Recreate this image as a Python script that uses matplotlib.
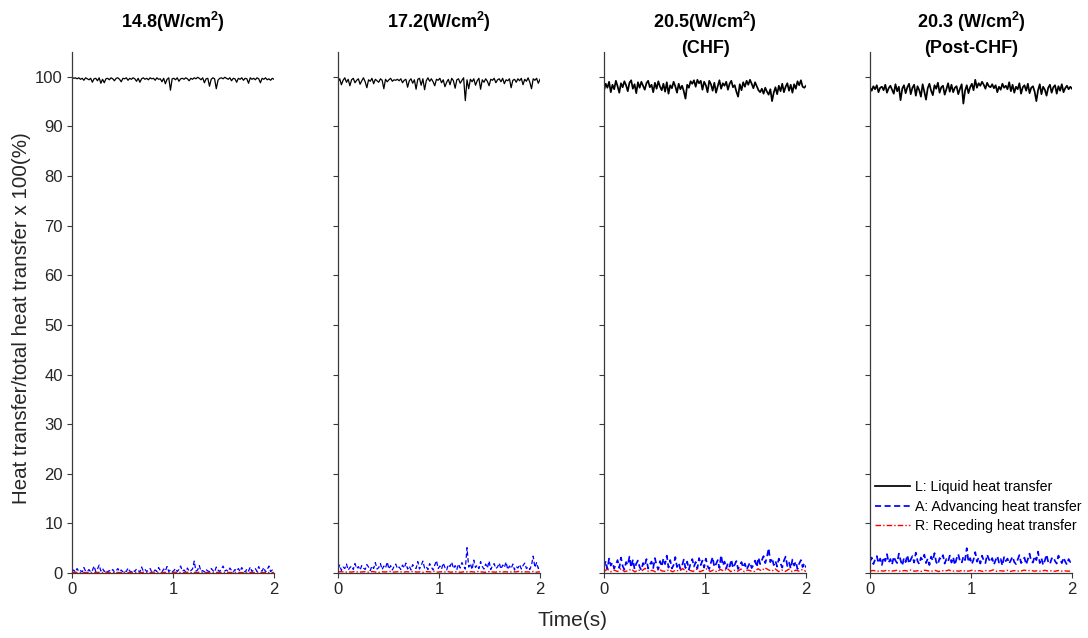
import numpy as np
import matplotlib
matplotlib.use("Agg")
import matplotlib.pyplot as plt
from matplotlib import font_manager

names = {f.name for f in font_manager.fontManager.ttflist}
title_font = "Liberation Sans Narrow" if "Liberation Sans Narrow" in names else "Liberation Sans"
plt.rcParams["font.family"] = ["Liberation Sans", "DejaVu Sans"]
plt.rcParams["mathtext.fontset"] = "custom"
plt.rcParams["mathtext.rm"] = title_font
plt.rcParams["mathtext.bf"] = title_font + ":bold"

titles = [[r"14.8(W/cm$^\mathbf{2}$)"],
          [r"17.2(W/cm$^\mathbf{2}$)"],
          [r"20.5(W/cm$^\mathbf{2}$)", "(CHF)"],
          [r"20.3 (W/cm$^\mathbf{2}$)", "(Post-CHF)"]]

legend_labels = ["L: Liquid heat transfer",
                 "A: Advancing heat transfer",
                 "R: Receding heat transfer"]

# Liquid heat-transfer share (%) for each heat flux
liquid_1 = [99.9, 99.7, 99.8, 99.6, 99.8, 99.5, 99.7, 99.3, 99.8, 99.6, 99.4, 99.7,
            98.9, 99.6, 99.7, 99.2, 99.8, 98.7, 99.5, 98.8, 99.6, 99.7, 99.4, 99.8,
            99.6, 99.2, 99.7, 99.8, 99.5, 99.0, 99.7, 99.6, 99.8, 99.3, 99.7, 99.5,
            99.8, 99.6, 99.1, 99.7, 98.9, 99.6, 99.8, 99.5, 99.7, 99.4, 99.8, 99.6,
            99.7, 99.3, 99.8, 99.5, 99.6, 99.0, 99.7, 98.6, 99.5, 99.8, 97.3, 99.6,
            99.7, 99.4, 99.8, 99.1, 99.6, 99.7, 99.5, 99.8, 99.6, 99.2, 99.7, 99.5,
            99.8, 99.6, 99.9, 99.7, 99.4, 99.8, 98.8, 99.6, 99.7, 98.1, 99.5, 99.8,
            99.6, 97.6, 99.3, 99.7, 99.8, 99.6, 99.9, 99.7, 99.5, 99.8, 99.2, 99.7,
            99.6, 98.9, 99.7, 99.5, 99.8, 99.3, 99.7, 99.6, 98.7, 99.8, 99.5, 99.7,
            99.4, 99.8, 99.6, 98.8, 99.7, 99.5, 99.8, 99.4, 99.6, 99.3, 99.7, 99.5]

liquid_2 = [99.0, 99.6, 98.4, 99.3, 99.8, 98.9, 99.5, 98.2, 99.4, 99.7, 98.8, 99.3,
            99.6, 98.5, 99.2, 99.8, 99.0, 97.8, 99.4, 99.1, 99.7, 98.6, 99.5, 99.2,
            98.9, 99.6, 99.3, 97.6, 99.5, 99.0, 99.4, 99.7, 99.1, 99.4, 99.3, 99.5,
            99.2, 99.6, 98.8, 99.3, 99.5, 97.9, 99.2, 99.6, 98.7, 99.4, 97.5, 99.5,
            99.7, 98.3, 99.6, 97.4, 99.2, 99.8, 99.1, 99.6, 99.0, 98.2, 99.5, 99.3,
            99.7, 98.8, 99.4, 98.0, 98.9, 99.5, 98.4, 99.7, 99.2, 97.7, 99.4, 99.6,
            98.7, 99.3, 99.8, 95.2, 99.4, 97.6, 99.5, 99.0, 99.6, 98.3, 99.2, 99.7,
            97.5, 99.4, 98.9, 99.6, 99.1, 98.2, 99.5, 99.3, 99.7, 98.8, 99.4, 99.6,
            99.0, 99.7, 98.6, 99.4, 99.2, 99.6, 97.8, 99.3, 99.5, 98.9, 99.6, 99.2,
            99.7, 98.4, 99.5, 99.1, 99.8, 98.9, 97.6, 99.6, 99.3, 99.7, 98.7, 99.5]

liquid_3 = [97.2, 98.6, 97.8, 99.0, 96.9, 98.4, 97.5, 99.2, 98.1, 96.8, 98.7, 97.9,
            99.1, 98.3, 97.1, 98.8, 99.3, 97.6, 98.5, 96.7, 98.9, 97.8, 99.0, 98.2,
            97.4, 98.7, 99.2, 97.9, 98.4, 96.9, 98.8, 97.6, 99.1, 98.0, 97.3, 98.6,
            97.0, 98.9, 96.6, 98.3, 97.7, 99.0, 98.1, 96.8, 98.6, 97.5, 98.2, 97.1,
            95.6, 98.4, 97.8, 99.1, 98.6, 99.3, 98.0, 99.4, 98.7, 99.2, 97.4, 99.0,
            98.3, 96.9, 99.2, 98.5, 97.2, 98.8, 96.8, 98.1, 99.3, 97.6, 98.7, 98.2,
            99.0, 97.4, 98.6, 99.2, 97.9, 98.3, 97.0, 96.0, 98.5, 97.3, 98.9, 98.0,
            99.2, 98.4, 99.4, 98.6, 97.7, 98.9, 98.1, 97.3, 96.9, 97.6, 96.6, 97.8,
            97.0, 96.4, 97.5, 95.1, 96.8, 97.9, 96.5, 98.2, 97.1, 98.6, 96.9, 98.0,
            98.7, 97.2, 98.4, 96.8, 98.5, 97.6, 99.1, 98.3, 99.3, 98.0, 97.8, 98.2]

liquid_4 = [97.9, 97.2, 98.1, 97.5, 98.3, 96.9, 97.8, 98.0, 97.3, 98.4, 96.8, 97.7,
            98.2, 97.4, 96.6, 98.5, 97.1, 98.0, 95.3, 97.6, 98.3, 96.7, 97.9, 98.6,
            96.5, 97.8, 98.4, 96.2, 98.1, 97.3, 96.0, 98.5, 97.0, 95.4, 97.7, 98.6,
            97.2, 96.3, 98.3, 97.6, 98.8, 96.8, 97.9, 98.2, 96.4, 97.5, 98.7, 97.0,
            98.4, 96.9, 97.8, 98.1, 96.5, 97.6, 98.5, 94.6, 97.2, 98.3, 96.7, 97.9,
            98.6, 97.3, 99.4, 97.8, 98.7, 98.2, 99.0, 98.4, 97.6, 98.8, 98.1, 97.9,
            98.5, 97.7, 98.3, 96.9, 98.0, 97.4, 98.6, 97.8, 98.2, 97.5, 98.9, 97.1,
            98.4, 96.8, 98.0, 97.5, 98.7, 96.6, 97.9, 98.3, 97.2, 98.6, 96.7, 97.8,
            98.1, 97.0, 95.1, 97.3, 98.5, 96.5, 98.0, 97.4, 96.2, 97.8, 98.4, 96.8,
            97.9, 98.3, 96.6, 98.1, 97.2, 98.5, 96.9, 97.7, 98.2, 97.5, 98.0, 97.6]

# Advancing-contact-line heat-transfer share (%)
advancing_1 = [0.3, 0.6, 0.2, 0.9, 0.3, 0.5, 0.2, 1.1, 0.4, 0.3, 0.7, 0.2,
               0.5, 1.4, 0.3, 0.8, 1.6, 0.4, 0.9, 0.3, 0.6, 0.2, 0.5, 0.3,
               0.7, 0.2, 0.4, 0.9, 0.3, 0.6, 0.2, 0.5, 0.3, 1.0, 0.4, 0.2,
               0.6, 0.3, 0.8, 0.5, 0.2, 1.2, 0.4, 0.7, 0.3, 0.5, 0.9, 0.2,
               0.4, 0.6, 0.3, 1.1, 0.5, 0.2, 0.8, 0.4, 1.3, 0.3, 0.6, 0.2,
               0.5, 0.9, 0.3, 0.7, 1.4, 0.4, 0.6, 0.2, 1.0, 0.3, 0.5, 0.8,
               2.4, 0.4, 0.6, 1.5, 0.3, 0.5, 0.2, 0.7, 0.4, 0.3, 0.9, 0.5,
               0.2, 1.2, 0.6, 0.3, 0.8, 1.4, 0.4, 0.6, 0.3, 1.0, 0.5, 0.2,
               0.7, 0.4, 0.9, 0.3, 1.1, 0.5, 0.2, 0.8, 0.4, 1.2, 0.3, 0.6,
               0.9, 0.3, 1.3, 0.5, 0.4, 1.1, 0.2, 0.7, 1.4, 0.3, 0.6, 0.4]

advancing_2 = [0.8, 1.6, 0.5, 1.2, 0.9, 1.8, 0.6, 1.1, 1.4, 0.7, 1.9, 0.9,
               1.3, 0.6, 1.5, 1.0, 0.7, 1.7, 1.2, 0.5, 1.4, 0.9, 2.1, 0.8,
               1.1, 1.9, 0.7, 1.4, 1.0, 2.2, 0.8, 1.5, 0.6, 1.3, 1.8, 0.9,
               1.2, 0.7, 1.6, 1.0, 2.0, 0.8, 1.4, 0.6, 1.7, 1.1, 0.9, 2.3,
               0.8, 1.5, 2.4, 1.0, 1.3, 0.7, 1.9, 1.2, 0.6, 1.6, 2.5, 0.9,
               1.4, 0.8, 2.0, 1.1, 0.6, 1.7, 1.3, 2.2, 0.9, 1.5, 0.7, 1.8,
               1.0, 2.1, 1.4, 0.8, 5.1, 1.2, 1.9, 0.7, 2.6, 1.1, 1.6, 0.9,
               2.3, 1.3, 0.8, 1.8, 1.0, 2.4, 0.7, 1.5, 1.9, 0.9, 1.2, 2.0,
               0.8, 1.6, 1.1, 2.2, 0.7, 1.4, 0.9, 1.8, 0.6, 1.3, 1.0, 1.7,
               0.8, 1.5, 2.0, 0.9, 1.2, 0.7, 1.6, 3.4, 1.1, 2.1, 0.9, 1.4]

advancing_3 = [1.2, 2.4, 0.8, 2.9, 1.5, 2.1, 0.9, 1.8, 2.6, 1.0, 3.1, 1.4,
               0.7, 2.2, 1.6, 3.3, 1.1, 2.7, 0.8, 1.9, 2.5, 1.2, 0.6, 2.0,
               1.4, 2.8, 0.9, 1.7, 2.3, 1.0, 3.0, 1.5, 0.7, 2.4, 1.3, 2.9,
               1.8, 3.5, 1.1, 2.6, 0.9, 1.6, 3.2, 1.2, 2.0, 0.8, 1.5, 2.7,
               1.0, 2.3, 0.7, 1.9, 2.8, 1.3, 2.2, 0.9, 3.0, 1.6, 2.5, 1.1,
               2.9, 1.4, 0.8, 2.1, 3.2, 1.2, 1.8, 2.6, 1.0, 3.6, 1.5, 2.3,
               0.9, 2.0, 1.3, 2.7, 1.0, 1.7, 2.4, 0.8, 1.5, 2.2, 1.1, 1.9,
               0.7, 1.4, 2.1, 1.0, 1.6, 2.5, 1.2, 3.1, 1.8, 2.6, 3.4, 2.0,
               3.2, 5.0, 2.2, 3.0, 1.6, 2.4, 1.3, 2.9, 1.9, 1.1, 2.5, 3.3,
               1.4, 2.1, 0.9, 2.7, 1.5, 2.3, 0.8, 1.9, 2.6, 1.2, 2.0, 1.1]

advancing_4 = [2.3, 3.1, 1.8, 2.7, 3.4, 2.0, 2.9, 1.6, 3.2, 2.4, 3.8, 2.1,
               2.8, 1.7, 3.3, 2.5, 2.0, 3.9, 2.6, 1.5, 3.0, 2.2, 3.6, 1.9,
               2.7, 3.4, 2.1, 4.1, 2.4, 1.8, 3.1, 2.6, 3.7, 2.0, 2.9, 1.6,
               3.3, 2.5, 4.0, 2.2, 1.7, 3.0, 2.7, 3.6, 1.9, 2.8, 2.3, 3.5,
               2.1, 3.2, 1.6, 2.9, 3.8, 2.4, 2.0, 3.3, 2.6, 5.0, 2.2, 3.0,
               1.8, 2.7, 4.2, 2.3, 3.1, 1.9, 3.5, 2.5, 2.0, 3.7, 2.8, 2.2,
               3.0, 1.7, 2.6, 3.4, 2.1, 2.8, 1.5, 3.2, 2.4, 2.9, 1.9, 2.6,
               3.3, 2.2, 1.8, 2.7, 3.6, 2.0, 2.5, 3.1, 1.7, 2.8, 3.9, 2.3,
               2.1, 3.4, 2.6, 4.3, 2.0, 3.0, 1.6, 2.5, 3.7, 2.2, 1.8, 2.9,
               3.2, 2.4, 1.9, 3.5, 2.7, 2.0, 3.1, 2.3, 1.7, 2.8, 2.2, 2.5]

# Receding-contact-line heat-transfer share (%)
receding_1 = [0.10, 0.14, 0.08, 0.12, 0.09, 0.16, 0.07, 0.11, 0.13, 0.08,
              0.15, 0.10, 0.06, 0.12, 0.09, 0.17, 0.11, 0.08, 0.13, 0.10,
              0.07, 0.14, 0.12, 0.09, 0.18, 0.10, 0.08, 0.13, 0.11, 0.07,
              0.15, 0.09, 0.12, 0.10, 0.16, 0.08, 0.11, 0.14, 0.09, 0.12,
              0.07, 0.13, 0.10, 0.15, 0.08, 0.12, 0.11, 0.09, 0.14, 0.10,
              0.08, 0.16, 0.12, 0.09, 0.11, 0.13, 0.07, 0.12, 0.10, 0.09]

receding_2 = [0.20, 0.28, 0.15, 0.24, 0.18, 0.32, 0.14, 0.22, 0.27, 0.16,
              0.30, 0.19, 0.13, 0.25, 0.21, 0.34, 0.17, 0.23, 0.29, 0.15,
              0.26, 0.20, 0.33, 0.18, 0.24, 0.14, 0.28, 0.21, 0.36, 0.17,
              0.25, 0.19, 0.31, 0.16, 0.27, 0.22, 0.15, 0.29, 0.20, 0.26,
              0.18, 0.33, 0.21, 0.14, 0.27, 0.23, 0.17, 0.30, 0.19, 0.25,
              0.16, 0.28, 0.22, 0.35, 0.18, 0.24, 0.20, 0.29, 0.17, 0.23]

receding_3 = [0.35, 0.75, 0.25, 0.58, 0.30, 0.90, 0.28, 0.45, 0.80, 0.22,
              0.62, 0.38, 0.95, 0.30, 0.54, 0.26, 0.82, 0.40, 0.33, 0.68,
              0.24, 0.60, 0.36, 0.88, 0.29, 0.56, 0.32, 0.76, 0.27, 0.52,
              0.84, 0.31, 0.59, 0.23, 0.73, 0.37, 0.92, 0.28, 0.55, 0.34,
              0.80, 0.26, 0.61, 0.39, 0.30, 0.86, 0.43, 1.05, 0.65, 0.36,
              0.82, 0.29, 0.58, 0.33, 0.77, 0.25, 0.56, 0.38, 0.72, 0.31]

receding_4 = [0.40, 0.52, 0.33, 0.47, 0.38, 0.58, 0.35, 0.44, 0.55, 0.31,
              0.50, 0.41, 0.62, 0.36, 0.46, 0.32, 0.56, 0.43, 0.37, 0.53,
              0.30, 0.48, 0.39, 0.60, 0.34, 0.45, 0.36, 0.54, 0.33, 0.42,
              0.57, 0.35, 0.49, 0.31, 0.51, 0.40, 0.63, 0.34, 0.46, 0.38,
              0.55, 0.32, 0.48, 0.41, 0.36, 0.59, 0.44, 0.52, 0.37, 0.47,
              0.33, 0.54, 0.40, 0.45, 0.35, 0.50, 0.38, 0.43, 0.36, 0.46]

liquid = [liquid_1, liquid_2, liquid_3, liquid_4]
advancing = [advancing_1, advancing_2, advancing_3, advancing_4]
receding = [receding_1, receding_2, receding_3, receding_4]

T_END = 2.0
spine_color = "#3a3a3a"
text_color = "#262626"

fig = plt.figure(figsize=(10.88, 6.38), dpi=100)
W, H = 1088, 638
ax_w = 202 / W
ax_bottom = 1 - 573 / H
ax_h = (573 - 52) / H
title_rows = [1 - 28 / H, 1 - 53 / H]

for i in range(4):
    left = (72 + 266 * i) / W
    ax = fig.add_axes([left, ax_bottom, ax_w, ax_h])

    t_l = np.linspace(0, T_END, len(liquid[i]))
    t_a = np.linspace(0, T_END, len(advancing[i]))
    t_r = np.linspace(0, T_END, len(receding[i]))
    lw = 0.9 if i < 2 else 1.25
    h1, = ax.plot(t_l, liquid[i], color="black", lw=lw, ls="-",
                  label=legend_labels[0])
    h2, = ax.plot(t_a, advancing[i], color="#0000ff", lw=lw,
                  ls=(0, (3.5, 2.0)), label=legend_labels[1])
    h3, = ax.plot(t_r, receding[i], color="#ff0000", lw=1.0,
                  ls=(0, (4, 1.5, 1, 1.5)), label=legend_labels[2])

    ax.set_xlim(0, T_END)
    ax.set_ylim(0, 105)
    ax.set_xticks([0, 1, 2])
    ax.set_yticks(np.arange(0, 101, 10))
    for side in ("top", "right"):
        ax.spines[side].set_visible(False)
    for side in ("left", "bottom"):
        ax.spines[side].set_color(spine_color)
        ax.spines[side].set_linewidth(0.9)
    ax.tick_params(direction="out", length=3.5, width=0.8, color=spine_color,
                   labelsize=12, labelcolor=text_color, pad=3)
    if i > 0:
        ax.tick_params(labelleft=False)

    xc = left + ax_w / 2
    for row, line in enumerate(titles[i]):
        fig.text(xc, title_rows[row], line, ha="center", va="baseline",
                 fontsize=13, fontweight="bold", family=title_font,
                 color="black")

    if i == 3:
        ax.legend(handles=[h1, h2, h3], loc="upper left",
                  bbox_to_anchor=(0.025, 0.178), frameon=False, fontsize=10.2,
                  handlelength=2.5, handletextpad=0.3, labelspacing=0.38,
                  borderaxespad=0, borderpad=0)

fig.text(22 / W, 1 - 318 / H, "Heat transfer/total heat transfer x 100(%)",
         rotation=90, ha="center", va="center", fontsize=14.8, color=text_color)
fig.text(572 / W, 1 - 620 / H, "Time(s)", ha="center", va="center",
         fontsize=15, color=text_color)

fig.savefig("out.png", dpi=100)
